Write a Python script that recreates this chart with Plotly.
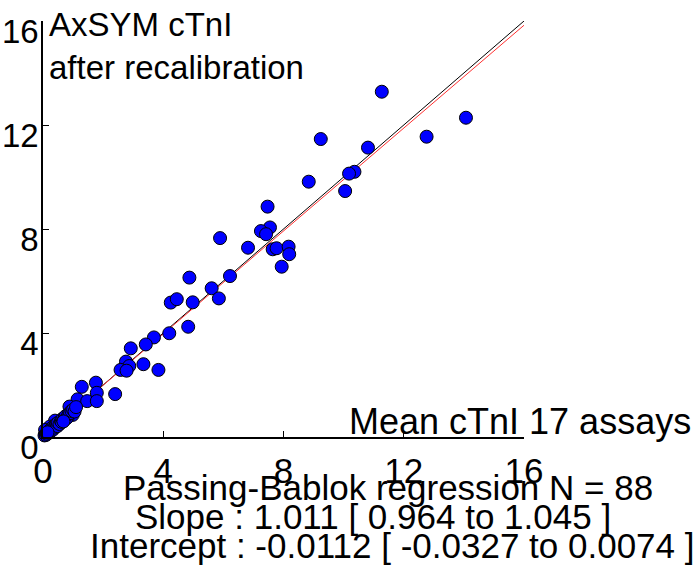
import plotly.graph_objects as go

# Data: mean cTnI of 17 assays (x) vs AxSYM cTnI after recalibration (y)
x_vals = [9.24, 11.27, 14.07, 12.76, 10.81, 10.36, 10.18, 8.84, 10.05, 7.47,
          7.55, 7.25, 7.42, 6.82, 7.64, 7.77, 8.17, 8.19, 7.94, 6.22,
          5.89, 4.87, 5.61, 5.85, 4.98, 4.25, 4.45, 4.83, 4.20, 3.69,
          3.42, 2.92, 2.76, 3.34, 2.87, 2.58, 2.78, 3.84, 1.76, 1.79,
          2.40, 1.29, 1.15, 1.47, 1.79, 0.88, 0.93, 0.99, 0.82, 0.57,
          0.40, 0.23, 0.16, 0.07,
          0.05, 0.08, 0.10, 0.12, 0.14, 0.18, 0.20, 0.22, 0.25, 0.28,
          0.30, 0.33, 0.35, 0.38, 0.42, 0.45, 0.48, 0.50, 0.55, 0.60,
          0.62, 0.65, 0.70, 0.72, 0.75, 0.78, 0.85, 0.90, 0.95, 1.00,
          1.05, 1.10, 0.68, 0.15]
y_vals = [11.46, 13.28, 12.28, 11.55, 11.13, 10.20, 10.13, 9.82, 9.46, 8.86,
          8.06, 7.92, 7.80, 7.28, 7.22, 7.26, 7.32, 7.03, 6.55, 6.19,
          7.65, 6.13, 5.72, 5.33, 5.18, 5.17, 5.30, 4.24, 3.99, 3.83,
          3.56, 3.41, 2.90, 2.80, 2.73, 2.58, 2.55, 2.58, 2.09, 1.70,
          1.65, 1.93, 1.45, 1.38, 1.38, 1.17, 0.97, 0.85, 0.76, 0.53,
          0.63, 0.40, 0.23, 0.27,
          0.06, 0.10, 0.08, 0.15, 0.12, 0.20, 0.17, 0.25, 0.22, 0.30,
          0.35, 0.28, 0.40, 0.36, 0.45, 0.50, 0.42, 0.55, 0.50, 0.62,
          0.58, 0.70, 0.66, 0.75, 0.80, 0.72, 0.88, 0.92, 1.00, 1.05,
          0.98, 1.15, 0.60, 0.18]

slope = 1.011
intercept = -0.0112
axis_min = 0
axis_max = 16
tick_values = [0, 4, 8, 12, 16]

title_lines = ["AxSYM cTnI", "after recalibration"]
x_label = "Mean cTnI 17 assays"
stats_lines = ["Passing-Bablok regression N = 88",
               "Slope : 1.011 [ 0.964 to 1.045 ]",
               "Intercept : -0.0112 [ -0.0327 to 0.0074 ]"]

FONT = "Liberation Sans, Arial, sans-serif"

fig = go.Figure()

# identity line
fig.add_trace(go.Scatter(x=[axis_min, axis_max], y=[axis_min, axis_max], mode="lines",
                         line=dict(color="black", width=1), showlegend=False,
                         hoverinfo="skip"))
# regression line (x = slope*y + intercept)
fig.add_trace(go.Scatter(x=[slope * axis_min + intercept, slope * axis_max + intercept],
                         y=[axis_min, axis_max], mode="lines",
                         line=dict(color="#ff3030", width=1), showlegend=False,
                         hoverinfo="skip", cliponaxis=False))
# points
fig.add_trace(go.Scatter(x=x_vals, y=y_vals, mode="markers",
                         marker=dict(color="#0000ff", size=13,
                                     line=dict(color="black", width=1)),
                         showlegend=False, cliponaxis=False))

axis_common = dict(range=[axis_min, axis_max], tickvals=tick_values,
                   ticktext=[str(v) for v in tick_values],
                   showgrid=False, zeroline=False, showline=True,
                   linecolor="black", linewidth=1.5, ticks="inside", ticklen=6,
                   tickwidth=1, tickcolor="black", automargin=False,
                   layer="above traces")

fig.update_xaxes(**axis_common, ticklabelstandoff=2,
                 tickfont=dict(family=FONT, size=35, color="black"))
fig.update_yaxes(**axis_common, ticklabelstandoff=-4, ticklabelshift=10,
                 tickfont=dict(family=FONT, size=33, color="black"))

def px_to_paper_x(px):
    return (px - 43) / 481.0

def px_to_paper_y(py):
    return (437 - py) / 416.0

annotations = [
    dict(text="<br>".join(title_lines), x=px_to_paper_x(48), y=px_to_paper_y(5),
         xanchor="left", yanchor="top", align="left",
         font=dict(family=FONT, size=33, color="black")),
    dict(text=x_label, x=px_to_paper_x(348), y=px_to_paper_y(421),
         xanchor="left", yanchor="middle",
         font=dict(family=FONT, size=36, color="black")),
    dict(text=stats_lines[0], x=px_to_paper_x(387.5), y=px_to_paper_y(488),
         xanchor="center", yanchor="middle",
         font=dict(family=FONT, size=35, color="black")),
    dict(text=stats_lines[1], x=px_to_paper_x(373), y=px_to_paper_y(516),
         xanchor="center", yanchor="middle",
         font=dict(family=FONT, size=35, color="black")),
    dict(text=stats_lines[2], x=px_to_paper_x(392), y=px_to_paper_y(545),
         xanchor="center", yanchor="middle",
         font=dict(family=FONT, size=35, color="black")),
]
for a in annotations:
    a.update(xref="paper", yref="paper", showarrow=False, borderpad=0)

fig.update_layout(width=695, height=566,
                  margin=dict(l=43, r=171, t=21, b=129),
                  paper_bgcolor="white", plot_bgcolor="white",
                  annotations=annotations, showlegend=False)

fig.write_html("out.html")
